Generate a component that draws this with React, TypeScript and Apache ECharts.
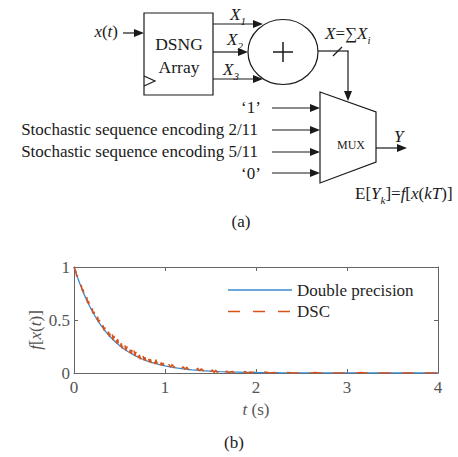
import React, { useEffect, useRef } from "react";
import * as echarts from "echarts";

// ---------- data ----------
const xTickValues = [0, 1, 2, 3, 4];
const yTickValues = [0, 0.5, 1];
const seriesNames = ["Double precision", "DSC"];

// Double precision curve
const exactT = [0, 0.05, 0.1, 0.15, 0.2, 0.25, 0.3, 0.35, 0.4, 0.45, 0.5, 0.55, 0.6, 0.65, 0.7, 0.75, 0.8, 0.85, 0.9, 0.95, 1, 1.1, 1.2, 1.3, 1.4, 1.5, 1.6, 1.7, 1.8, 1.9, 2, 2.25, 2.5, 2.75, 3, 3.5, 4];
const exactV = [1, 0.874, 0.763, 0.667, 0.583, 0.509, 0.445, 0.389, 0.34, 0.297, 0.259, 0.227, 0.198, 0.173, 0.151, 0.132, 0.115, 0.101, 0.088, 0.077, 0.067, 0.051, 0.039, 0.03, 0.023, 0.017, 0.013, 0.01, 0.008, 0.006, 0.0045, 0.0023, 0.0012, 0.0006, 0.0003, 0.0001, 0];

// DSC noisy curve: t = 0.00 .. 0.99 (step 0.01)
const dscFine = [
  1.0, 0.98, 0.96, 0.91, 0.92, 0.87, 0.87, 0.82, 0.83, 0.78,
  0.79, 0.74, 0.75, 0.7, 0.72, 0.66, 0.68, 0.62, 0.64, 0.59,
  0.61, 0.56, 0.58, 0.53, 0.55, 0.5, 0.53, 0.48, 0.5, 0.45,
  0.47, 0.43, 0.45, 0.4, 0.43, 0.38, 0.4, 0.36, 0.39, 0.34,
  0.38, 0.33, 0.37, 0.31, 0.35, 0.29, 0.33, 0.28, 0.32, 0.26,
  0.3, 0.25, 0.28, 0.23, 0.27, 0.22, 0.26, 0.21, 0.25, 0.2,
  0.23, 0.19, 0.22, 0.18, 0.23, 0.17, 0.21, 0.16, 0.2, 0.15,
  0.19, 0.14, 0.17, 0.13, 0.17, 0.125, 0.16, 0.12, 0.15, 0.11,
  0.14, 0.105, 0.135, 0.1, 0.13, 0.095, 0.125, 0.09, 0.12, 0.085,
  0.125, 0.09, 0.115, 0.08, 0.11, 0.075, 0.1, 0.07, 0.095, 0.065,
];
// t = 1.00 .. 1.98 (step 0.02)
const dscMid = [
  0.09, 0.06, 0.085, 0.055, 0.08, 0.05, 0.07, 0.045, 0.065, 0.04,
  0.06, 0.035, 0.055, 0.03, 0.05, 0.03, 0.045, 0.025, 0.045, 0.02,
  0.04, 0.02, 0.035, 0.015, 0.04, 0.01, 0.03, 0.005, 0.025, 0,
  0.02, 0, 0.015, 0, 0.02, 0, 0.01, 0.015, 0, 0,
  0.015, 0, 0.01, 0, 0.015, 0, 0, 0.01, 0, 0.015,
];
// t = 2.00 .. 4.00 (step 0.05)
const dscCoarse = [
  0.005, 0, 0.01, 0, 0.005, 0, 0, 0.005, 0, 0,
  0.005, 0, 0, 0.005, 0, 0, 0, 0, 0, 0,
  0, 0, 0, 0.005, 0, 0, 0, 0, 0, 0,
  0, 0, 0, 0, 0, 0, 0, 0, 0, 0, 0,
];

// ---------- styles ----------
const SERIF = "Liberation Serif";
const INK = "#1a1a1a";
const AXIS_GRAY = "#555555";
const BLUE = "#3a8ad0";
const ORANGE = "#D95319";
const LW = 1.2;

const richBase = (size: number, color: string) => ({
  n: { fontFamily: SERIF, fontSize: size, fill: color, color, padding: [0, 0, 3, 0], verticalAlign: "bottom" },
  i: { fontFamily: SERIF, fontSize: size, fontStyle: "italic", fill: color, color, padding: [0, 0, 3, 0], verticalAlign: "bottom" },
  s: { fontFamily: SERIF, fontSize: Math.round(size * 0.65), fontStyle: "italic", fill: color, color, verticalAlign: "bottom" },
});

function text(x: number, y: number, t: string, opt: any = {}) {
  return {
    type: "text",
    x,
    y,
    rotation: opt.rotation || 0,
    z: 10,
    style: {
      text: t,
      fill: opt.color || INK,
      fontFamily: SERIF,
      fontSize: opt.size || 17,
      fontStyle: opt.italic ? "italic" : "normal",
      textAlign: opt.align || "left",
      textVerticalAlign: "middle",
      rich: opt.rich ? richBase(opt.size || 17, opt.color || INK) : undefined,
    },
  };
}

function seg(x1: number, y1: number, x2: number, y2: number, w = LW) {
  return { type: "line", z: 10, shape: { x1, y1, x2, y2 }, style: { stroke: INK, lineWidth: w } };
}

function arrowRight(x1: number, x2: number, y: number) {
  return [
    seg(x1, y, x2 - 8, y),
    { type: "polygon", z: 10, shape: { points: [[x2, y], [x2 - 10, y - 4], [x2 - 10, y + 4]] }, style: { fill: INK } },
  ];
}

function arrowDown(x: number, y1: number, y2: number) {
  return [
    seg(x, y1, x, y2 - 8),
    { type: "polygon", z: 10, shape: { points: [[x, y2], [x - 4, y2 - 10], [x + 4, y2 - 10]] }, style: { fill: INK } },
  ];
}

function buildDiagram() {
  const els: any[] = [];
  // input x(t)
  els.push(text(118, 33, "{i|x}{n|(}{i|t}{n|)}", { align: "right", rich: true }));
  els.push(...arrowRight(123, 144, 33));
  // DSNG array block
  els.push({ type: "rect", z: 10, shape: { x: 144, y: 13, width: 69, height: 82 }, style: { fill: "none", stroke: INK, lineWidth: LW } });
  els.push({ type: "polyline", z: 10, shape: { points: [[144, 76], [155, 81], [144, 86]] }, style: { fill: "none", stroke: INK, lineWidth: LW } });
  els.push(text(179, 44, "DSNG", { align: "center", size: 17.5 }));
  els.push(text(179, 66.5, "Array", { align: "center", size: 17.5 }));
  // outputs X1..X3
  els.push(...arrowRight(213, 263, 24));
  els.push(...arrowRight(213, 248, 52));
  els.push(...arrowRight(213, 263, 79));
  els.push(text(230, 16, "{i|X}{s|1}", { rich: true }));
  els.push(text(227, 41, "{i|X}{s|2}", { rich: true }));
  els.push(text(223, 71, "{i|X}{s|3}", { rich: true }));
  // adder
  els.push({ type: "ellipse", z: 10, shape: { cx: 283, cy: 52, rx: 35, ry: 32.5 }, style: { fill: "none", stroke: INK, lineWidth: LW } });
  els.push(seg(273, 52, 293, 52, 1.5));
  els.push(seg(283, 42, 283, 62, 1.5));
  // sum output to MUX select
  els.push(seg(318, 51, 348.6, 51));
  els.push(...arrowDown(348, 51, 101));
  els.push(seg(333, 56, 342, 47));
  els.push(text(325, 35, "{i|X}{n|=∑}{i|X}{s|i}", { rich: true }));
  // MUX
  els.push({ type: "polygon", z: 10, shape: { points: [[320, 92], [376, 112], [376, 162], [320, 183]] }, style: { fill: "none", stroke: INK, lineWidth: LW } });
  els.push(text(351, 145, "MUX", { size: 12, align: "center" }));
  // MUX inputs
  const inY = [108, 130, 152, 173];
  for (const y of inY) els.push(...arrowRight(272, 320, y));
  els.push(text(251, 107, "\u20181\u2019", { align: "center" }));
  els.push(text(258, 129, "Stochastic sequence encoding 2/11", { align: "right" }));
  els.push(text(258, 151, "Stochastic sequence encoding 5/11", { align: "right" }));
  els.push(text(251, 173, "\u20180\u2019", { align: "center" }));
  // output Y
  els.push(...arrowRight(376, 407, 148));
  els.push(text(394, 136, "Y", { italic: true }));
  els.push(text(355, 195, "{n|E[}{i|Y}{s|k}{n|]=}{i|f}{n|[}{i|x}{n|(}{i|kT}{n|)]}", { rich: true }));
  els.push(text(241, 221, "(a)", { align: "center" }));

  // chart annotations
  els.push(text(37, 330, "{i|f}{n|[}{i|x}{n|(}{i|t}{n|)]}", { rich: true, align: "center", rotation: Math.PI / 2, color: AXIS_GRAY }));
  els.push(text(256, 411, "{i|t}{n| (s)}", { rich: true, align: "center", color: AXIS_GRAY }));
  els.push(text(234, 442, "(b)", { align: "center" }));

  // legend
  els.push({ type: "rect", z: 9, shape: { x: 222, y: 278, width: 210, height: 44 }, style: { fill: "#ffffff" } });
  els.push({ type: "line", z: 10, shape: { x1: 228, y1: 290, x2: 292, y2: 290 }, style: { stroke: BLUE, lineWidth: 1.4 } });
  els.push(text(297, 290, seriesNames[0], { color: "#262626" }));
  els.push({ type: "line", z: 10, shape: { x1: 228, y1: 311.5, x2: 292, y2: 311.5 }, style: { stroke: ORANGE, lineWidth: 1.4, lineDash: [12, 13] } });
  els.push(text(297, 311.5, seriesNames[1], { color: "#262626" }));
  return els;
}

export default function App() {
  const ref = useRef<HTMLDivElement>(null);
  useEffect(() => {
    if (!ref.current) return;
    const chart = echarts.init(ref.current, undefined, { renderer: "svg" });

    const exactData = exactT.map((t, i) => [t, exactV[i]]);
    const dscData: number[][] = [];
    dscFine.forEach((v, i) => dscData.push([+(i * 0.01).toFixed(2), v]));
    dscMid.forEach((v, i) => dscData.push([+(1 + i * 0.02).toFixed(2), v]));
    dscCoarse.forEach((v, i) => dscData.push([+(2 + i * 0.05).toFixed(2), v]));

    const axisLine = () => ({ show: true, onZero: false, lineStyle: { color: "#666666", width: 1 } });
    const tick = () => ({ show: true, inside: true, length: 4, lineStyle: { color: "#666666" } });
    const label = { color: AXIS_GRAY, fontFamily: SERIF, fontSize: 17 };

    chart.setOption({
      animation: false,
      backgroundColor: "#ffffff",
      grid: { left: 74, top: 267, width: 364, height: 106, containLabel: false },
      xAxis: [
        {
          type: "value", min: xTickValues[0], max: xTickValues[xTickValues.length - 1], interval: 1,
          axisLine: axisLine(), axisTick: tick(), splitLine: { show: false },
          axisLabel: { ...label, margin: 6 },
        },
        {
          type: "value", position: "top", min: 0, max: 4, interval: 1,
          axisLine: axisLine(), axisTick: tick(), splitLine: { show: false }, axisLabel: { show: false },
        },
      ],
      yAxis: [
        {
          type: "value", min: yTickValues[0], max: yTickValues[yTickValues.length - 1], interval: 0.5,
          axisLine: axisLine(), axisTick: tick(), splitLine: { show: false },
          axisLabel: { ...label, margin: 4 },
        },
        {
          type: "value", position: "right", min: 0, max: 1, interval: 0.5,
          axisLine: axisLine(), axisTick: tick(), splitLine: { show: false }, axisLabel: { show: false },
        },
      ],
      series: [
        {
          name: seriesNames[0], type: "line", data: exactData, symbol: "none",
          lineStyle: { color: BLUE, width: 1.3 }, z: 2,
        },
        {
          name: seriesNames[1], type: "line", data: dscData, symbol: "none",
          lineStyle: { color: ORANGE, width: 1.5, type: [12, 11] }, z: 3,
        },
      ],
      graphic: { elements: buildDiagram() },
    });
    return () => chart.dispose();
  }, []);
  return <div ref={ref} style={{ position: "fixed", left: 0, top: 0, width: 458, height: 457, background: "#fff" }} />;
}
